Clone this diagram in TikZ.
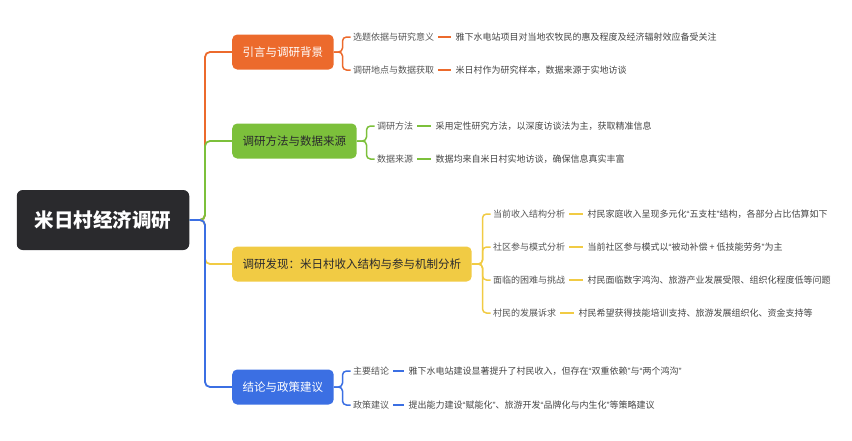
\documentclass[tikz,border=0pt]{standalone}
\usepackage{fontspec}
\setmainfont{Noto Sans CJK SC}
\newfontfamily\latinq{Liberation Sans}
\newcommand\zq[1]{{\latinq“}#1{\latinq”}}
\usepackage{tikz}
\usetikzlibrary{calc,positioning}

\definecolor{rootc}{HTML}{2A2A2D}
\definecolor{orangec}{HTML}{EC6A2C}
\definecolor{greenc}{HTML}{7CC03B}
\definecolor{yellowc}{HTML}{F1CB44}
\definecolor{bluec}{HTML}{3B6FE3}
\definecolor{subtext}{HTML}{555555}
\definecolor{dettext}{HTML}{444444}

\begin{document}
\begin{tikzpicture}[x=1pt,y=-1pt,
    rootbox/.style={fill=rootc,text=white,rounded corners=6pt,minimum height=60pt,
        inner xsep=18pt,font=\fontsize{19.5}{22}\selectfont\bfseries},
    topic/.style={rounded corners=5pt,minimum height=35pt,inner xsep=10.5pt,
        anchor=west,font=\fontsize{11.5}{13}\selectfont},
    sub/.style={anchor=west,inner xsep=2.5pt,inner ysep=1pt,text=subtext,
        font=\fontsize{9}{10}\selectfont},
    detail/.style={inner xsep=2.5pt,inner ysep=1pt,text=dettext,
        font=\fontsize{9}{10}\selectfont},
    link/.style={line width=1.8pt,rounded corners=5pt},
    leafline/.style={line width=2pt,shorten <=1.5pt,shorten >=2pt}]

        \useasboundingbox (0,0) rectangle (852,440);

        % Root and main topics
        \node[rootbox] (root) at (103,220) {米日村经济调研};
        \coordinate (hub) at (205,220);

        \node[topic,fill=orangec,text=white] (intro) at (232,52) {引言与调研背景};
        \node[topic,fill=greenc,text=rootc] (method) at (232,141) {调研方法与数据来源};
        \node[topic,fill=yellowc,text=rootc] (find) at (232,264) {调研发现：米日村收入结构与参与机制分析};
        \node[topic,fill=bluec,text=white] (concl) at (232,387) {结论与政策建议};

        % Branches (blue last, it lies on top)
        \draw[link,orangec] (root.east) -- (hub) |- (intro.west);
        \draw[link,greenc] (root.east) -- (hub) |- (method.west);
        \draw[link,yellowc] (root.east) -- (hub) |- (find.west);
        \draw[link,bluec] (root.east) -- (hub) |- (concl.west);

        % Intro
        \node[sub] (i1) at (350.5,37) {选题依据与研究意义};
        \node[sub] (i2) at (350.5,70) {调研地点与数据获取};
        \node[detail,right=16pt of i1] (i1d) {雅下水电站项目对当地农牧民的惠及程度及经济辐射效应备受关注};
        \node[detail,right=16pt of i2] (i2d) {米日村作为研究样本，数据来源于实地访谈};
        \foreach \s in {i1,i2} {
            \draw[link,orangec,line width=1.5pt,rounded corners=4pt]
                (intro.east) -- ([xshift=-8pt]\s.west |- intro.east) |- (\s.west);
            \draw[leafline,orangec] (\s.east) -- (\s d.west);
        }

        % Method
        \node[sub] (m1) at (374.5,126) {调研方法};
        \node[sub] (m2) at (374.5,159) {数据来源};
        \node[detail,right=17pt of m1] (m1d) {采用定性研究方法，以深度访谈法为主，获取精准信息};
        \node[detail,right=17pt of m2] (m2d) {数据均来自米日村实地访谈，确保信息真实丰富};
        \foreach \s in {m1,m2} {
            \draw[link,greenc,line width=1.5pt,rounded corners=4pt]
                (method.east) -- ([xshift=-8pt]\s.west |- method.east) |- (\s.west);
            \draw[leafline,greenc] (\s.east) -- (\s d.west);
        }

        % Findings
        \node[sub] (f1) at (490.5,214) {当前收入结构分析};
        \node[sub] (f2) at (490.5,247) {社区参与模式分析};
        \node[sub] (f3) at (490.5,280) {面临的困难与挑战};
        \node[sub] (f4) at (490.5,313) {村民的发展诉求};
        \node[detail,right=17pt of f1] (f1d) {村民家庭收入呈现多元化\zq{五支柱}结构，各部分占比估算如下};
        \node[detail,right=17pt of f2] (f2d) {当前社区参与模式以\zq{被动补偿 + 低技能劳务}为主};
        \node[detail,right=17pt of f3] (f3d) {村民面临数字鸿沟、旅游产业发展受限、组织化程度低等问题};
        \node[detail,right=17pt of f4] (f4d) {村民希望获得技能培训支持、旅游发展组织化、资金支持等};
        \foreach \s in {f1,f2,f3,f4} {
            \draw[link,yellowc,line width=1.5pt,rounded corners=4pt]
                (find.east) -- ([xshift=-8pt]\s.west |- find.east) |- (\s.west);
            \draw[leafline,yellowc] (\s.east) -- (\s d.west);
        }

        % Conclusion
        \node[sub] (c1) at (350.5,371) {主要结论};
        \node[sub] (c2) at (350.5,405) {政策建议};
        \node[detail,right=14pt of c1] (c1d) {雅下水电站建设显著提升了村民收入，但存在\zq{双重依赖}与\zq{两个鸿沟}};
        \node[detail,right=14pt of c2] (c2d) {提出能力建设\zq{赋能化}、旅游开发\zq{品牌化与内生化}等策略建议};
        \foreach \s in {c1,c2} {
            \draw[link,bluec,line width=1.5pt,rounded corners=4pt]
                (concl.east) -- ([xshift=-8pt]\s.west |- concl.east) |- (\s.west);
            \draw[leafline,bluec] (\s.east) -- (\s d.west);
        }

    \end{tikzpicture}
\end{document}
